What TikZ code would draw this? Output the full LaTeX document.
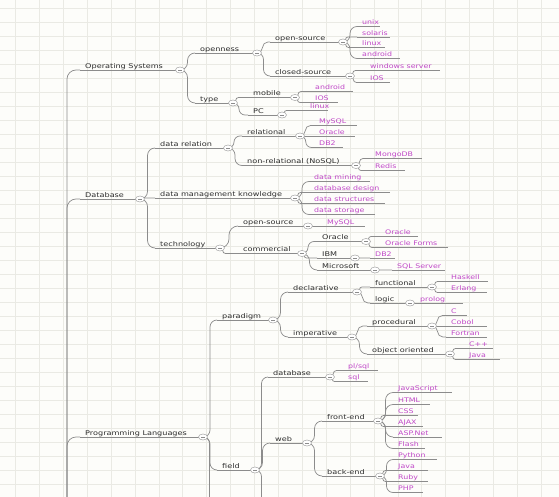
\documentclass[tikz,border=0pt]{standalone}
\usepackage{fontspec}
\usetikzlibrary{shapes.geometric,calc}
\newfontfamily\mmfont[FakeStretch=1.25]{DejaVu Sans}
\definecolor{bgc}{RGB}{253,253,250}
\definecolor{gridc}{RGB}{234,234,228}
\definecolor{linec}{RGB}{140,140,140}
\definecolor{topc}{RGB}{45,45,45}
\definecolor{leafc}{RGB}{192,72,200}
\pgfdeclarelayer{gridlayer}
\pgfdeclarelayer{connlayer}
\pgfsetlayers{gridlayer,connlayer,main}
\tikzset{
  conn/.style={draw=linec, line width=0.7pt},
  gridline/.style={draw=gridc, line width=0.8pt},
  elbow/.style={to path={let \p1=(\tikztostart), \p2=(\tikztotarget),
     \n1={max(0.1pt,min(9pt,abs(\y2-\y1)/2,(\x2-\x1)/2))} in
     [rounded corners=\n1] -- (\x1+\n1,\y1) |- (\tikztotarget)}},
  toptext/.style={anchor=base west, inner sep=0pt, text=topc,
     font=\mmfont\fontsize{6.5}{7}\selectfont},
  leaftext/.style={anchor=base west, inner sep=0pt, text=leafc,
     font=\mmfont\fontsize{6.3}{7}\selectfont},
  btn/.style={ellipse, draw=linec!80, fill=white, line width=0.5pt,
     minimum width=9pt, minimum height=6pt, inner sep=0pt,
     path picture={\draw[linec, line width=0.5pt]
       ([xshift=-2pt]path picture bounding box.center) --
       ([xshift=2pt]path picture bounding box.center);}}
}
% name, parent, text x, line y, button x, text
\newcommand\mmtopic[6]{%
  \coordinate (#1s) at (#3-5,#4);
  \node[btn] (#1) at (#5,#4) {};
  \node[toptext] (#1t) at (#3,#4-1.8) {#6};
  \begin{pgfonlayer}{connlayer}
    \draw[conn] (#1s) -- (#1.center);
    \draw[conn] (#2.center) to[elbow] (#1s);
  \end{pgfonlayer}}
% name, parent, text x, line y, end x, text
\newcommand\mmleaf[6]{%
  \coordinate (#1s) at (#3-5,#4);
  \coordinate (#1e) at (#5,#4);
  \node[leaftext] (#1) at (#3,#4-1.8) {#6};
  \begin{pgfonlayer}{connlayer}
    \draw[conn] (#1s) -- (#1e);
    \draw[conn] (#2.center) to[elbow] (#1s);
  \end{pgfonlayer}}
\begin{document}
\begin{tikzpicture}[x=1pt,y=-1pt]
\useasboundingbox (0,0) rectangle (559,497);
\begin{pgfonlayer}{gridlayer}
  \fill[bgc] (0,0) rectangle (559,497);
  \foreach \i in {0,...,23} \draw[gridline] ({15.5+23.9*\i},0) -- ++(0,497);
  \foreach \j in {0,...,35} \draw[gridline] (0,{8+14*\j}) -- ++(559,0);
\end{pgfonlayer}
\coordinate (root) at (58,560);
% top level
\mmtopic{os}{root}{85}{70}{180}{Operating Systems}
\mmtopic{db}{root}{85}{199}{140}{Database}
\mmtopic{pl}{root}{85}{437}{203}{Programming Languages}
% Operating Systems
\mmtopic{osop}{os}{200}{53}{257}{openness}
\mmtopic{osty}{os}{200}{103}{233}{type}
\mmtopic{osos}{osop}{275}{42}{343}{open-source}
\mmtopic{oscs}{osop}{275}{76}{350}{closed-source}
\mmleaf{unix}{osos}{362}{26.5}{380}{unix}
\mmleaf{sol}{osos}{362}{37}{390}{solaris}
\mmleaf{lin1}{osos}{362}{47.5}{385}{linux}
\mmleaf{and1}{osos}{362}{58.5}{400}{android}
\mmleaf{win}{oscs}{370}{70.5}{440}{windows server}
\mmleaf{ios1}{oscs}{370}{82.5}{390}{IOS}
\mmtopic{mob}{osty}{253}{97.5}{295}{mobile}
\mmtopic{pc}{osty}{253}{115}{282}{PC}
\mmleaf{and2}{mob}{315}{91.5}{353}{android}
\mmleaf{ios2}{mob}{315}{102.5}{338}{IOS}
\mmleaf{lin2}{pc}{310}{110.5}{328}{linux}
% Database
\mmtopic{dbrel}{db}{160}{148}{228}{data relation}
\mmtopic{dbmk}{db}{160}{198}{295}{data management knowledge}
\mmtopic{dbtech}{db}{160}{248}{220}{technology}
\mmtopic{rel}{dbrel}{247}{136}{300}{relational}
\mmtopic{nrel}{dbrel}{247}{165.5}{356}{non-relational (NoSQL)}
\mmleaf{my1}{rel}{319}{125.5}{357}{MySQL}
\mmleaf{ora1}{rel}{319}{136.5}{355}{Oracle}
\mmleaf{dbtwo1}{rel}{319}{147.5}{343}{DB2}
\mmleaf{mongo}{nrel}{375}{158.5}{422}{MongoDB}
\mmleaf{redis}{nrel}{375}{170.5}{405}{Redis}
\mmleaf{dmin}{dbmk}{314}{181.5}{370}{data mining}
\mmleaf{ddes}{dbmk}{314}{192.5}{390}{database design}
\mmleaf{dstr}{dbmk}{314}{203.5}{385}{data structures}
\mmleaf{dsto}{dbmk}{314}{214.5}{375}{data storage}
\mmtopic{tos}{dbtech}{243}{226}{308}{open-source}
\mmtopic{tcom}{dbtech}{243}{253.5}{302}{commercial}
\mmleaf{my2}{tos}{327}{226.5}{365}{MySQL}
\mmtopic{cora}{tcom}{322}{241.5}{366}{Oracle}
\mmtopic{cibm}{tcom}{322}{258}{355}{IBM}
\mmtopic{cms}{tcom}{322}{270}{375}{Microsoft}
\mmleaf{ora2}{cora}{385}{236.5}{418}{Oracle}
\mmleaf{oraf}{cora}{385}{247.5}{448}{Oracle Forms}
\mmleaf{dbtwo2}{cibm}{375}{258}{395}{DB2}
\mmleaf{sqls}{cms}{397}{270}{445}{SQL Server}
% Programming Languages
\mmtopic{par}{pl}{222}{320}{273}{paradigm}
\mmtopic{fld}{pl}{222}{470}{255}{field}
\coordinate (plmore) at (216,560);
\begin{pgfonlayer}{connlayer}\draw[conn] (pl.center) to[elbow] (plmore);\end{pgfonlayer}
\mmtopic{decl}{par}{293}{292}{357}{declarative}
\mmtopic{imp}{par}{293}{337}{352}{imperative}
\mmtopic{func}{decl}{375}{287}{432}{functional}
\mmtopic{logic}{decl}{375}{303}{410}{logic}
\mmleaf{hask}{func}{451}{281.5}{488}{Haskell}
\mmleaf{erl}{func}{451}{292.5}{487}{Erlang}
\mmleaf{prol}{logic}{420}{303.5}{463}{prolog}
\mmtopic{proc}{imp}{372}{326}{432}{procedural}
\mmtopic{oo}{imp}{372}{354}{450}{object oriented}
\mmleaf{clang}{proc}{451}{315.5}{467}{C}
\mmleaf{cob}{proc}{451}{326.5}{487}{Cobol}
\mmleaf{fort}{proc}{451}{337}{487}{Fortran}
\mmleaf{cpp}{oo}{469}{348.5}{493}{C++}
\mmleaf{javaone}{oo}{469}{359.5}{500}{Java}
\mmtopic{fdb}{fld}{273}{377}{330}{database}
\mmtopic{web}{fld}{275}{443}{307}{web}
\coordinate (fldmore) at (268,560);
\begin{pgfonlayer}{connlayer}\draw[conn] (fld.center) to[elbow] (fldmore);\end{pgfonlayer}
\mmleaf{plsql}{fdb}{348}{370.5}{378}{pl/sql}
\mmleaf{sql}{fdb}{348}{381.5}{368}{sql}
\mmtopic{fe}{web}{327}{421}{378}{front-end}
\mmtopic{be}{web}{327}{476}{380}{back-end}
\mmleaf{js}{fe}{398}{392.5}{452}{JavaScript}
\mmleaf{html}{fe}{398}{404.5}{430}{HTML}
\mmleaf{css}{fe}{398}{415.5}{418}{CSS}
\mmleaf{ajax}{fe}{398}{426.5}{423}{AJAX}
\mmleaf{asp}{fe}{398}{437}{442}{ASP.Net}
\mmleaf{flash}{fe}{398}{448.5}{425}{Flash}
\mmleaf{py}{be}{398}{459.5}{437}{Python}
\mmleaf{javatwo}{be}{398}{470.5}{428}{Java}
\mmleaf{ruby}{be}{398}{481.5}{428}{Ruby}
\mmleaf{php}{be}{398}{492.5}{423}{PHP}
\end{tikzpicture}
\end{document}
